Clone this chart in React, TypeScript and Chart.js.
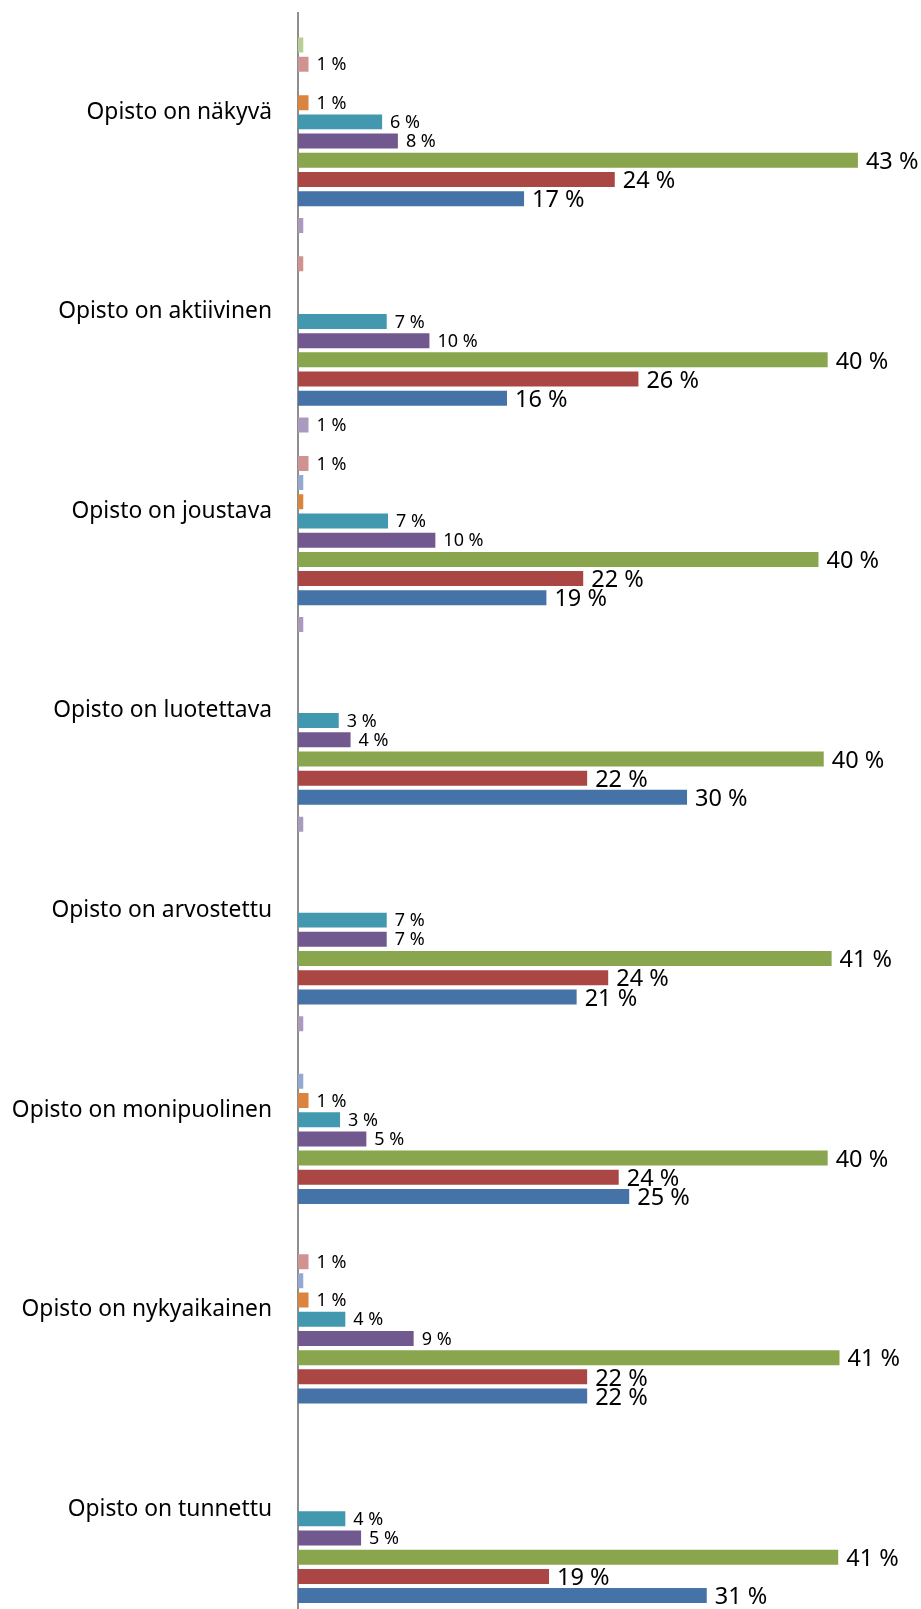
import React, { useEffect, useRef } from 'react';
import { Chart, registerables } from 'chart.js';

Chart.register(...registerables);

// Categories, top to bottom
const categories = [
  'Opisto on näkyvä',
  'Opisto on aktiivinen',
  'Opisto on joustava',
  'Opisto on luotettava',
  'Opisto on arvostettu',
  'Opisto on monipuolinen',
  'Opisto on nykyaikainen',
  'Opisto on tunnettu',
];

// Series values (percent), in category order above
const series1 = [17.2, 15.9, 18.9, 29.6, 21.2, 25.2, 22.0, 31.1]; // blue
const series2 = [24.1, 25.9, 21.7, 22.0, 23.6, 24.4, 22.0, 19.1]; // red
const series3 = [42.6, 40.3, 39.6, 40.0, 40.6, 40.3, 41.2, 41.1]; // green
const series4 = [7.6, 10.0, 10.45, 4.0, 6.75, 5.2, 8.8, 4.8]; // purple
const series5 = [6.4, 6.75, 6.85, 3.1, 6.75, 3.2, 3.6, 3.6]; // teal
const series6 = [0.8, 0, 0.4, 0, 0, 0.8, 0.8, 0]; // orange
const series7 = [0, 0, 0.4, 0, 0, 0.4, 0.4, 0]; // light blue
const series8 = [0.8, 0.4, 0.8, 0, 0, 0, 0.8, 0]; // pink
const series9 = [0.4, 0, 0, 0, 0, 0, 0, 0]; // light green
const series10 = [0, 0.4, 0.8, 0.4, 0.4, 0.4, 0, 0]; // light purple

const seriesNames = [
  'Sarja 1', 'Sarja 2', 'Sarja 3', 'Sarja 4', 'Sarja 5',
  'Sarja 6', 'Sarja 7', 'Sarja 8', 'Sarja 9', 'Sarja 10',
];
const seriesColors = [
  '#4572A7', '#AA4643', '#89A54E', '#71588F', '#4198AF',
  '#DB843D', '#93A9CF', '#D19392', '#B9CD96', '#A99BBD',
];
const seriesValues = [series1, series2, series3, series4, series5, series6, series7, series8, series9, series10];
const bigLabelSeries = [0, 1, 2];

const labelPlugin = {
  id: 'barValueLabels',
  afterDatasetsDraw(chart: any) {
    const ctx = chart.ctx;
    chart.data.datasets.forEach((ds: any, di: number) => {
      const meta = chart.getDatasetMeta(di);
      const big = bigLabelSeries.includes(ds.seriesIndex);
      meta.data.forEach((bar: any, i: number) => {
        const v = ds.data[i];
        const r = Math.round(v);
        if (r < 1) return;
        ctx.save();
        ctx.font = `${big ? 23.5 : 18}px "Noto Sans"`;
        ctx.fillStyle = '#000';
        ctx.textAlign = 'left';
        ctx.textBaseline = 'middle';
        ctx.fillText(`${r} %`, bar.x + 8, bar.y + (big ? 2 : 1));
        ctx.restore();
      });
    });
  },
};

export default function App() {
  const ref = useRef<HTMLCanvasElement>(null);
  useEffect(() => {
    if (!ref.current) return;
    // dataset 0 is drawn at the top of each band: highest series first
    const order = [9, 8, 7, 6, 5, 4, 3, 2, 1, 0];
    const datasets = order.map((si) => ({
      label: seriesNames[si],
      seriesIndex: si,
      data: seriesValues[si],
      backgroundColor: seriesColors[si],
      borderWidth: 0,
      categoryPercentage: 0.962,
      barPercentage: 0.78,
    }));
    const chart = new Chart(ref.current, {
      type: 'bar',
      data: { labels: categories, datasets },
      plugins: [labelPlugin],
      options: {
        indexAxis: 'y',
        animation: false,
        responsive: false,
        devicePixelRatio: 1,
        layout: { padding: { top: 12.5, right: 0, bottom: 0, left: 0 } },
        plugins: { legend: { display: false }, tooltip: { enabled: false } },
        scales: {
          x: {
            display: false,
            min: 0,
            max: 47.4,
            grid: { display: false },
          },
          y: {
            afterFit: (scale: any) => {
              scale.width = 298;
              scale.paddingTop = 0;
              scale.paddingBottom = 0;
            },
            grid: { display: false, drawTicks: false },
            border: { display: true, color: '#8e8e8e', width: 2 },
            ticks: {
              padding: 26,
              color: '#000',
              font: { family: '"Noto Sans"', size: 22.8 },
            },
          },
        },
      },
    } as any);
    return () => chart.destroy();
  }, []);
  return (
    <div style={{ position: 'absolute', left: 0, top: 0, width: 921, height: 1609, background: '#fff' }}>
      <canvas ref={ref} width={921} height={1609} />
    </div>
  );
}
